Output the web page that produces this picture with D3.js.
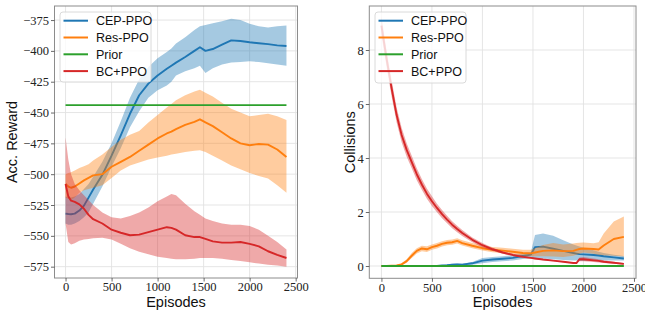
<!DOCTYPE html>
<html><head><meta charset="utf-8">
<script src="https://cdn.jsdelivr.net/npm/d3@7"></script>
<style>
html,body{margin:0;padding:0;background:#fff;}
svg{display:block;}
.tick text{font-family:"Liberation Serif","Times New Roman",serif !important;}
</style></head>
<body>
<svg id="chart" width="645" height="312"></svg>
<script>
// ---------- DATA ----------
const seriesNames = ["CEP-PPO", "Res-PPO", "Prior", "BC+PPO"];
const seriesColors = ["#1f77b4", "#ff7f0e", "#2ca02c", "#d62728"];

// Left panel: accumulated reward
const rewardEpisodes = [0,30,60,100,150,200,250,300,400,500,600,700,800,900,1000,1100,1150,1200,1300,1400,1460,1520,1600,1700,1800,1900,2000,2100,2200,2300,2400];
const rewardCepMean = [-532,-532.3,-532.5,-532,-529.5,-525.5,-519,-512.5,-500.5,-485,-468.5,-451,-436,-426.5,-420,-414.5,-412,-409.5,-405,-400,-397,-400,-398.5,-395,-391.5,-392,-393,-393.8,-394.5,-395.5,-396];
const rewardCepHi   = [-518,-519,-519,-518,-516,-512,-508,-502,-490,-475,-457,-438,-423,-413,-406,-401,-398,-394,-389,-383,-380,-379,-377.5,-376,-374,-375,-378,-380,-381,-380,-379.5];
const rewardCepLo   = [-540,-541,-541,-540,-538,-535,-531,-524,-510,-494,-479,-462,-449,-438,-432,-428,-425,-420,-416.5,-414,-412,-418,-414,-411,-409.5,-409,-408.5,-409,-410,-411,-412];
const rewardResMean = [-508,-510,-511,-510,-507.5,-505,-503,-501,-500,-494,-490,-486,-481,-476,-471,-467,-465.5,-463.5,-460,-457.5,-455.5,-458,-461,-466,-471,-475,-476.5,-475.5,-476,-480,-486];
const rewardResHi   = [-500,-499,-498.5,-497,-495,-493.5,-492,-489,-484,-478,-472,-468,-465,-458,-452,-446,-443,-440,-436,-433,-431.5,-434,-437,-442,-447,-450,-453,-452,-451,-453,-456];
const rewardResLo   = [-519,-520,-521,-519,-515,-513,-512,-511,-509,-503,-497,-493,-490.5,-488,-486.5,-485,-484,-483.5,-482,-481,-480.5,-482,-485,-489,-493,-496,-499,-501.5,-503.5,-509,-515];
const rewardPrior   = [-444,-444,-444,-444,-444,-444,-444,-444,-444,-444,-444,-444,-444,-444,-444,-444,-444,-444,-444,-444,-444,-444,-444,-444,-444,-444,-444,-444,-444,-444,-444];
const rewardBcMean  = [-508,-518,-521.5,-522.5,-524.5,-528,-533,-536.5,-540,-545,-547.5,-549.5,-549,-547,-545,-543,-543.5,-545,-549.5,-551,-551,-552.5,-554.5,-555.5,-555.5,-555,-556.5,-558.5,-562.5,-565.5,-568];
const rewardBcHi    = [-470,-488,-500,-508,-513,-517,-521,-525,-531,-535,-536,-534,-531,-527,-522,-518,-516,-517,-524,-530,-533,-536,-538,-540,-541,-541,-542,-545,-550,-555,-561];
const rewardBcLo    = [-540,-555,-557,-556,-554,-553,-552.5,-552,-551.5,-553,-556.5,-560,-563,-565,-567,-568,-568.5,-569,-569,-568.5,-568,-568,-568,-568.5,-569.5,-570.5,-571.5,-572.5,-573.5,-574,-575];

// Right panel: collisions
const collEpisodes = [0,50,100,150,200,250,300,350,400,450,500,550,600,650,700,750,800,900,1000,1100,1200,1300,1400,1480,1520,1600,1700,1800,1900,1930,1960,2000,2100,2150,2200,2300,2400];
const collCepMean = [0,0,0,0,0,0,0,0,0,0,0,0.005,0.02,0.03,0.05,0.06,0.05,0.1,0.2,0.24,0.27,0.3,0.37,0.42,0.7,0.72,0.64,0.56,0.48,0.46,0.44,0.43,0.41,0.39,0.36,0.32,0.28];
const collCepHi   = [0,0,0,0,0,0,0,0,0,0,0,0.01,0.04,0.06,0.08,0.09,0.08,0.15,0.3,0.33,0.36,0.4,0.47,0.52,1.15,1.2,1.12,0.95,0.8,0.76,0.72,0.68,0.58,0.53,0.48,0.42,0.37];
const collCepLo   = [0,0,0,0,0,0,0,0,0,0,0,0,0.005,0.01,0.02,0.03,0.03,0.05,0.1,0.15,0.18,0.2,0.26,0.3,0.3,0.28,0.25,0.22,0.2,0.2,0.19,0.19,0.2,0.2,0.2,0.2,0.2];
const collResMean = [0,0,0.01,0.02,0.06,0.18,0.38,0.56,0.65,0.62,0.7,0.75,0.82,0.86,0.88,0.93,0.85,0.75,0.66,0.6,0.57,0.53,0.48,0.47,0.5,0.56,0.58,0.55,0.56,0.6,0.63,0.65,0.63,0.61,0.76,1.0,1.08];
const collResHi   = [0.01,0.01,0.02,0.04,0.1,0.25,0.48,0.66,0.75,0.73,0.8,0.85,0.92,0.96,0.98,1.03,0.95,0.85,0.77,0.7,0.68,0.64,0.6,0.6,0.66,0.78,0.85,0.8,0.83,0.85,0.86,0.87,0.84,0.88,1.2,1.65,1.83];
const collResLo   = [0,0,0,0.01,0.03,0.12,0.3,0.46,0.55,0.52,0.6,0.65,0.72,0.77,0.79,0.83,0.76,0.66,0.57,0.51,0.48,0.44,0.38,0.36,0.36,0.36,0.35,0.33,0.38,0.42,0.45,0.5,0.45,0.42,0.4,0.38,0.35];
const collPrior   = [0,0,0,0,0,0,0,0,0,0,0,0,0,0,0,0,0,0,0,0,0,0,0,0,0,0,0,0,0,0,0,0,0,0,0,0,0];
const collBcMean  = [8.9,7.7,6.6,5.6,4.85,4.3,3.85,3.4,3.02,2.68,2.4,2.15,1.92,1.72,1.53,1.37,1.22,0.97,0.77,0.62,0.5,0.41,0.34,0.3,0.28,0.24,0.2,0.16,0.11,0.11,0.25,0.25,0.21,0.19,0.16,0.12,0.08];
const collBcHi    = [9.25,8.0,6.9,5.88,5.12,4.55,4.08,3.62,3.22,2.87,2.58,2.31,2.07,1.86,1.66,1.49,1.33,1.06,0.85,0.68,0.55,0.45,0.38,0.33,0.31,0.27,0.22,0.18,0.13,0.13,0.32,0.33,0.28,0.25,0.21,0.16,0.11];
const collBcLo    = [8.55,7.4,6.3,5.32,4.58,4.05,3.62,3.18,2.82,2.49,2.22,1.99,1.77,1.58,1.4,1.25,1.11,0.88,0.69,0.56,0.45,0.37,0.3,0.27,0.25,0.21,0.18,0.14,0.09,0.09,0.18,0.18,0.15,0.13,0.11,0.08,0.05];

const xTicks = [0,500,1000,1500,2000,2500];
const rewardTicks = [-375,-400,-425,-450,-475,-500,-525,-550,-575];
const collTicks = [0,2,4,6,8];

// ---------- DRAW ----------
const svg = d3.select("#chart");
const serif = "'Liberation Serif','Times New Roman',serif";
const sans = "'Liberation Sans',Arial,Helvetica,sans-serif";
const fmt = d => d < 0 ? "\u2212" + Math.abs(d) : String(d);

function panel(cfg) {
  const {left, right, top, bottom, xDomain, yDomain, yTicks, episodes, series, ylabel, ylabelX, legend} = cfg;
  const x = d3.scaleLinear().domain(xDomain).range([left, right]);
  const y = d3.scaleLinear().domain(yDomain).range([bottom, top]);
  const g = svg.append("g");
  const clipId = "clip" + Math.round(left);
  svg.append("clipPath").attr("id", clipId).append("rect")
    .attr("x", left).attr("y", top).attr("width", right - left).attr("height", bottom - top);

  // grid
  g.append("g").selectAll("line").data(xTicks.filter(t => x(t) <= right)).join("line")
    .attr("x1", d => x(d)).attr("x2", d => x(d)).attr("y1", top).attr("y2", bottom)
    .attr("stroke", "#e2e2e2").attr("stroke-width", 0.9);
  g.append("g").selectAll("line").data(yTicks).join("line")
    .attr("y1", d => y(d)).attr("y2", d => y(d)).attr("x1", left).attr("x2", right)
    .attr("stroke", "#e2e2e2").attr("stroke-width", 0.9);

  const plot = g.append("g").attr("clip-path", `url(#${clipId})`);
  series.forEach(s => {
    const pts = episodes.map((e, i) => ({e, m: s.mean[i], lo: s.lo ? s.lo[i] : null, hi: s.hi ? s.hi[i] : null}));
    if (s.lo) {
      plot.append("path").datum(pts)
        .attr("d", d3.area().x(d => x(d.e)).y0(d => y(d.lo)).y1(d => y(d.hi)))
        .attr("fill", s.color).attr("fill-opacity", 0.4).attr("stroke", "none");
    }
    plot.append("path").datum(pts)
      .attr("d", d3.line().x(d => x(d.e)).y(d => y(d.m)))
      .attr("fill", "none").attr("stroke", s.color).attr("stroke-width", 1.9)
      .attr("stroke-linejoin", "round");
  });

  // frame
  g.append("rect").attr("x", left).attr("y", top).attr("width", right - left).attr("height", bottom - top)
    .attr("fill", "none").attr("stroke", "#8c8c8c").attr("stroke-width", 1);

  // axes
  const xAxis = d3.axisBottom(x).tickValues(xTicks).tickSize(3.5).tickPadding(1).tickFormat(fmt);
  const ax = g.append("g").attr("transform", `translate(0,${bottom})`).call(xAxis);
  const yAxis = d3.axisLeft(y).tickValues(yTicks).tickSize(3.5).tickPadding(2).tickFormat(fmt);
  const ay = g.append("g").attr("transform", `translate(${left},0)`).call(yAxis);
  [ax, ay].forEach(a => {
    a.attr("font-family", serif).attr("font-size", 12.5);
    a.select(".domain").remove();
    a.selectAll(".tick line").attr("stroke", "#444").attr("stroke-width", 0.8);
    a.selectAll(".tick text").style("font-family", serif).style("font-size", "12.5px").attr("fill", "#222");
  });

  // labels
  g.append("text").attr("x", (left + right) / 2).attr("y", 307)
    .attr("text-anchor", "middle").attr("font-family", sans).attr("font-size", 14.5).attr("fill", "#111")
    .text("Episodes");
  g.append("text").attr("transform", `translate(${ylabelX},${(top + bottom) / 2}) rotate(-90)`)
    .attr("text-anchor", "middle").attr("font-family", sans).attr("font-size", 14.5).attr("fill", "#111")
    .text(ylabel);

  // legend
  const lg = g.append("g");
  lg.append("rect").attr("x", legend.x).attr("y", legend.y).attr("width", legend.w).attr("height", legend.h)
    .attr("rx", 3).attr("fill", "#fff").attr("fill-opacity", 0.8).attr("stroke", "#d6d6d6").attr("stroke-width", 0.9);
  series.forEach((s, i) => {
    const cy = legend.y + 8.7 + i * 16.8;
    lg.append("line").attr("x1", legend.x + 3.5).attr("x2", legend.x + 28).attr("y1", cy).attr("y2", cy)
      .attr("stroke", s.color).attr("stroke-width", 2);
    lg.append("text").attr("x", legend.x + 36).attr("y", cy).attr("dy", "0.36em")
      .attr("font-family", sans).attr("font-size", 12.5).attr("fill", "#111").text(s.name);
  });
}

const rewardSeries = [
  {name: seriesNames[0], color: seriesColors[0], mean: rewardCepMean, lo: rewardCepLo, hi: rewardCepHi},
  {name: seriesNames[1], color: seriesColors[1], mean: rewardResMean, lo: rewardResLo, hi: rewardResHi},
  {name: seriesNames[2], color: seriesColors[2], mean: rewardPrior},
  {name: seriesNames[3], color: seriesColors[3], mean: rewardBcMean, lo: rewardBcLo, hi: rewardBcHi}
];
const collSeries = [
  {name: seriesNames[0], color: seriesColors[0], mean: collCepMean, lo: collCepLo, hi: collCepHi},
  {name: seriesNames[1], color: seriesColors[1], mean: collResMean, lo: collResLo, hi: collResHi},
  {name: seriesNames[2], color: seriesColors[2], mean: collPrior},
  {name: seriesNames[3], color: seriesColors[3], mean: collBcMean, lo: collBcLo, hi: collBcHi}
];

panel({left: 54.5, right: 297.5, top: 6, bottom: 278, xDomain: [-120, 2520], yDomain: [-584.2, -363.6],
  yTicks: rewardTicks, episodes: rewardEpisodes, series: rewardSeries, ylabel: "Acc. Reward", ylabelX: 17,
  legend: {x: 60, y: 12, w: 91, h: 70}});
panel({left: 369.3, right: 636, top: 6, bottom: 278.3, xDomain: [-120, 2520], yDomain: [-0.455, 9.63],
  yTicks: collTicks, episodes: collEpisodes, series: collSeries, ylabel: "Collisions", ylabelX: 355,
  legend: {x: 375, y: 12, w: 91, h: 71}});
</script>
</body></html>
